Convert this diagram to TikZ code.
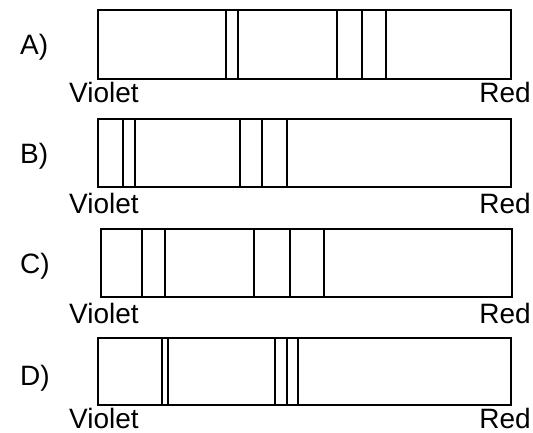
\documentclass[tikz,border=0pt]{standalone}
\usepackage{fontspec}
\setmainfont{Liberation Sans}
\usepackage{tikz}
\tikzset{
  frame/.style={draw=black, line width=2.8pt},
  band/.style={draw=black, line width=2.1pt},
  tag/.style={font=\fontsize{28}{32}\selectfont, inner sep=0pt}
}

\begin{document}
\begin{tikzpicture}[x=1pt, y=-1pt]
  \useasboundingbox (0,0) rectangle (533,433);

  % Spectrum A
  \draw[band] (226,10) -- (226,79);
  \draw[band] (238,10) -- (238,79);
  \draw[band] (337,10) -- (337,79);
  \draw[band] (362,10) -- (362,79);
  \draw[band] (386,10) -- (386,79);
  \draw[frame] (98,10) rectangle (511,79);
  \node[tag, anchor=west] (labA) at (20,47) {A)};
  \node[tag, anchor=base west] (violetA) at (69,103) {Violet};
  \node[tag, anchor=base east] (redA) at (531,103) {Red};

  % Spectrum B
  \draw[band] (123,119) -- (123,187);
  \draw[band] (135,119) -- (135,187);
  \draw[band] (240,119) -- (240,187);
  \draw[band] (262,119) -- (262,187);
  \draw[band] (287,119) -- (287,187);
  \draw[frame] (98,119) rectangle (511,187);
  \node[tag, anchor=west] (labB) at (20,156) {B)};
  \node[tag, anchor=base west] (violetB) at (69,213) {Violet};
  \node[tag, anchor=base east] (redB) at (531,213) {Red};

  % Spectrum C
  \draw[band] (142,229) -- (142,297);
  \draw[band] (165,229) -- (165,297);
  \draw[band] (254,229) -- (254,297);
  \draw[band] (290,229) -- (290,297);
  \draw[band] (324,229) -- (324,297);
  \draw[frame] (101,229) rectangle (512,297);
  \node[tag, anchor=west] (labC) at (20,266) {C)};
  \node[tag, anchor=base west] (violetC) at (69,323) {Violet};
  \node[tag, anchor=base east] (redC) at (531,323) {Red};

  % Spectrum D
  \draw[band] (162,338) -- (162,405);
  \draw[band] (168,338) -- (168,405);
  \draw[band] (275,338) -- (275,405);
  \draw[band] (287,338) -- (287,405);
  \draw[band] (298,338) -- (298,405);
  \draw[frame] (98,338) rectangle (511,405);
  \node[tag, anchor=west] (labD) at (20,378) {D)};
  \node[tag, anchor=base west] (violetD) at (69,428) {Violet};
  \node[tag, anchor=base east] (redD) at (531,428) {Red};
\end{tikzpicture}
\end{document}
